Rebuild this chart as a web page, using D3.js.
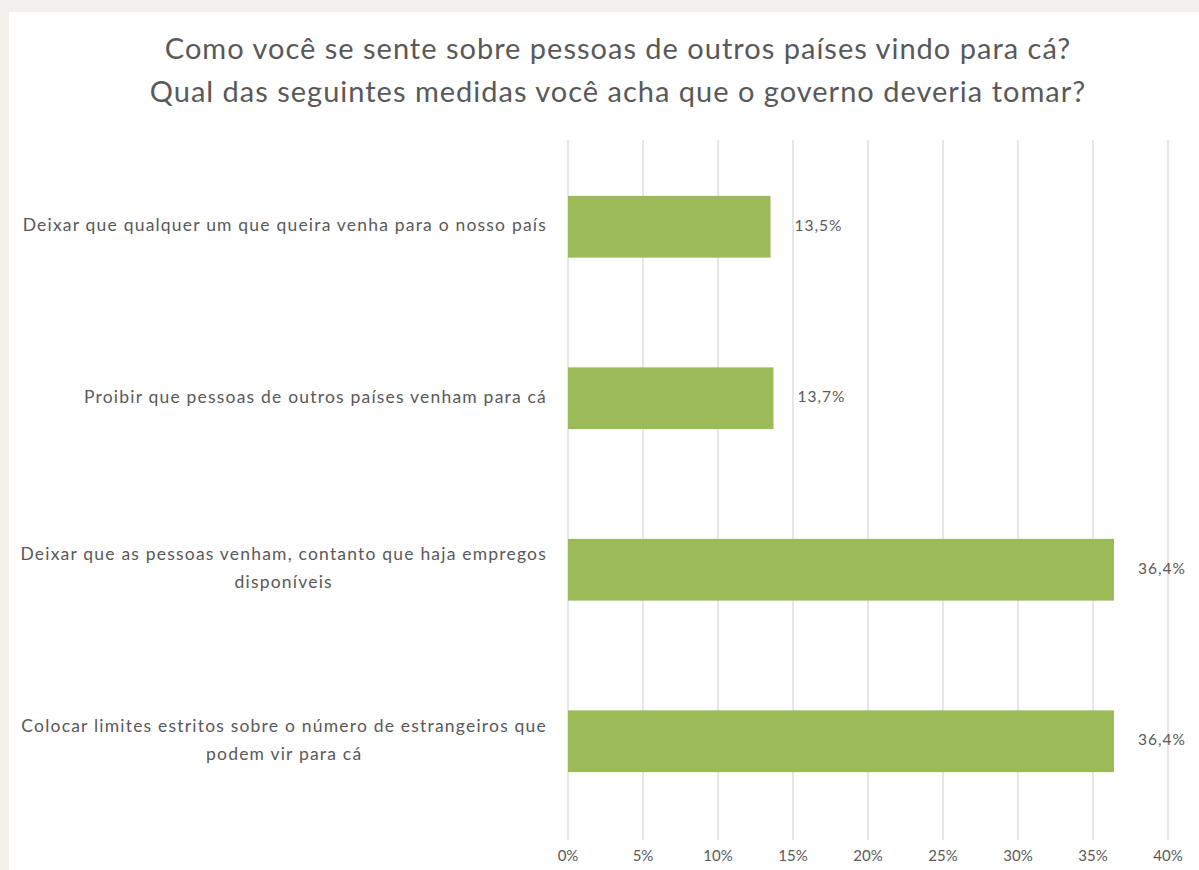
<!DOCTYPE html>
<html>
<head>
<meta charset="utf-8">
<script src="https://cdn.jsdelivr.net/npm/d3@7"></script>
<style>
  html, body { margin: 0; padding: 0; background: #f2f0eb; }
  svg { display: block; }
</style>
</head>
<body>
<script>
// data
var categories = [
  ["Deixar que qualquer um que queira venha para o nosso país"],
  ["Proibir que pessoas de outros países venham para cá"],
  ["Deixar que as pessoas venham, contanto que haja empregos", "disponíveis"],
  ["Colocar limites estritos sobre o número de estrangeiros que", "podem vir para cá"]
];
var values = [13.5, 13.7, 36.4, 36.4];
var ticks = [0, 5, 10, 15, 20, 25, 30, 35, 40];
var titleLines = [
  "Como você se sente sobre pessoas de outros países vindo para cá?",
  "Qual das seguintes medidas você acha que o governo deveria tomar?"
];

var W = 1199, H = 870;
var font = "Lato, 'Open Sans', sans-serif";
var grey = "#595959";

var svg = d3.select("body").append("svg")
    .attr("width", W)
    .attr("height", H);

svg.append("rect")
    .attr("x", 9).attr("y", 12)
    .attr("width", W - 9).attr("height", H - 12)
    .attr("fill", "#ffffff");

var x = d3.scaleLinear().domain([0, 40]).range([568, 1168]);
var y = d3.scaleBand().domain(d3.range(categories.length)).range([141, 827]).paddingInner(0.64).paddingOuter(0.32);

// gridlines
svg.append("g").selectAll("line")
    .data(ticks)
    .join("line")
    .attr("x1", d => x(d)).attr("x2", d => x(d))
    .attr("y1", 140).attr("y2", 840)
    .attr("stroke", "#d9d9d9")
    .attr("stroke-width", 1.3);

// tick labels
svg.append("g").selectAll("text")
    .data(ticks)
    .join("text")
    .attr("x", d => x(d))
    .attr("y", 857)
    .attr("text-anchor", "middle")
    .attr("dominant-baseline", "middle")
    .attr("font-family", font)
    .attr("font-size", 15)
    .attr("fill", grey)
    .text(d => d + "%");

// bars
svg.append("g").selectAll("rect")
    .data(values)
    .join("rect")
    .attr("x", x(0))
    .attr("y", (d, i) => y(i))
    .attr("width", d => x(d) - x(0))
    .attr("height", y.bandwidth())
    .attr("fill", "#9bbb59");

// value labels
svg.append("g").selectAll("text")
    .data(values)
    .join("text")
    .attr("x", d => x(d) + 24)
    .attr("y", (d, i) => y(i) + y.bandwidth() / 2)
    .attr("dominant-baseline", "middle")
    .attr("font-family", font)
    .attr("font-size", 15.5)
    .attr("letter-spacing", 1)
    .attr("fill", grey)
    .text(d => String(d).replace(".", ",") + "%");

// category labels: block right-aligned, lines centred inside it
var labelRight = 547, lineH = 28;
categories.forEach(function(lines, i) {
  var g = svg.append("g");
  var cy = y(i) + y.bandwidth() / 2;
  var texts = g.selectAll("text")
      .data(lines)
      .join("text")
      .attr("y", (d, j) => cy + (j - (lines.length - 1) / 2) * lineH)
      .attr("dominant-baseline", "middle")
      .attr("text-anchor", "middle")
      .attr("font-family", font)
      .attr("font-size", 17.5)
      .attr("letter-spacing", 1.2)
      .attr("fill", grey)
      .text(d => d);
  var bw = d3.max(texts.nodes(), n => n.getComputedTextLength());
  texts.attr("x", labelRight - bw / 2);
});

// title
svg.append("g").selectAll("text")
    .data(titleLines)
    .join("text")
    .attr("x", 618)
    .attr("y", (d, i) => 52 + i * 43)
    .attr("text-anchor", "middle")
    .attr("dominant-baseline", "middle")
    .attr("font-family", font)
    .attr("font-size", 29)
    .attr("letter-spacing", 1)
    .attr("fill", grey)
    .text(d => d);
</script>
</body>
</html>
